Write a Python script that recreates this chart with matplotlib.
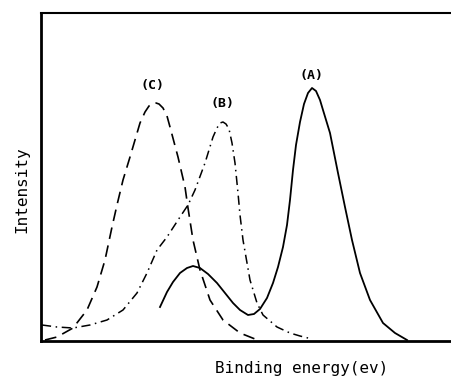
import matplotlib
matplotlib.use("Agg")
import matplotlib.pyplot as plt

# Curve A (solid): small shoulder peak + main peak
a_energy = [119, 126, 132, 139, 146, 152, 159, 167, 176, 184, 192, 199, 207, 213,
            219, 226, 232, 237, 242, 246, 249, 252, 255, 259, 263, 267, 271, 275,
            279, 282, 289, 297, 304, 311, 319, 329, 342, 354, 366]
a_intensity = [34, 49, 59, 68, 73, 75, 73, 67, 58, 48, 38, 31, 26, 27,
               32, 43, 58, 74, 94, 116, 141, 171, 196, 219, 237, 248, 253, 250,
               241, 231, 208, 168, 134, 101, 68, 41, 18, 8, 1]

# Curve B (dash-dot)
b_energy = [1, 16, 32, 49, 66, 82, 96, 106, 116, 126, 139, 147, 154, 164, 172,
            176, 179, 182, 185, 188, 191, 194, 197, 199, 202, 209, 216, 222, 236,
            249, 259, 271]
b_intensity = [16, 14, 13, 16, 21, 31, 48, 68, 91, 104, 124, 136, 151, 178, 204,
               213, 218, 219, 217, 212, 198, 178, 148, 126, 101, 61, 38, 26, 14,
               8, 5, 2]

# Curve C (dashed)
c_energy = [4, 16, 32, 46, 56, 64, 71, 76, 82, 89, 99, 104, 108, 112, 115, 118,
            122, 126, 129, 137, 144, 147, 152, 159, 169, 182, 199, 214]
c_intensity = [1, 4, 13, 31, 54, 81, 114, 136, 161, 184, 218, 229, 235, 238, 238,
               237, 233, 225, 214, 184, 154, 133, 101, 71, 41, 21, 8, 2]

labels = ["(A)", "(B)", "(C)"]
label_pos = [(271, 265), (182, 238), (112, 256)]

fig = plt.figure(figsize=(4.52, 3.79), dpi=100)
ax = fig.add_axes([41 / 452, 38 / 379, 411 / 452, 328 / 379])

ax.plot(a_energy, a_intensity, color="black", lw=1.3, ls="-")
ax.plot(b_energy, b_intensity, color="black", lw=1.1, ls=(0, (6, 3, 1, 3)))
ax.plot(c_energy, c_intensity, color="black", lw=1.2, ls=(0, (7, 4)))

for txt, (x, y) in zip(labels, label_pos):
    ax.text(x, y, txt, ha="center", va="center", fontsize=9.5,
            family="DejaVu Sans Mono", fontweight="bold")

ax.set_xlim(0, 411)
ax.set_ylim(0, 328)
ax.set_xticks([])
ax.set_yticks([])
ax.spines["right"].set_visible(False)
for side in ("left", "bottom"):
    ax.spines[side].set_linewidth(2.0)
ax.spines["top"].set_linewidth(1.5)

fig.text(302 / 452, 1 - 368 / 379, "Binding energy(ev)", ha="center", va="center",
         fontsize=11.5, family="DejaVu Sans Mono")
fig.text(22 / 452, 1 - 190 / 379, "Intensity", ha="center", va="center",
         rotation=90, fontsize=11.5, family="DejaVu Sans Mono")

fig.savefig("out.png", dpi=100)
